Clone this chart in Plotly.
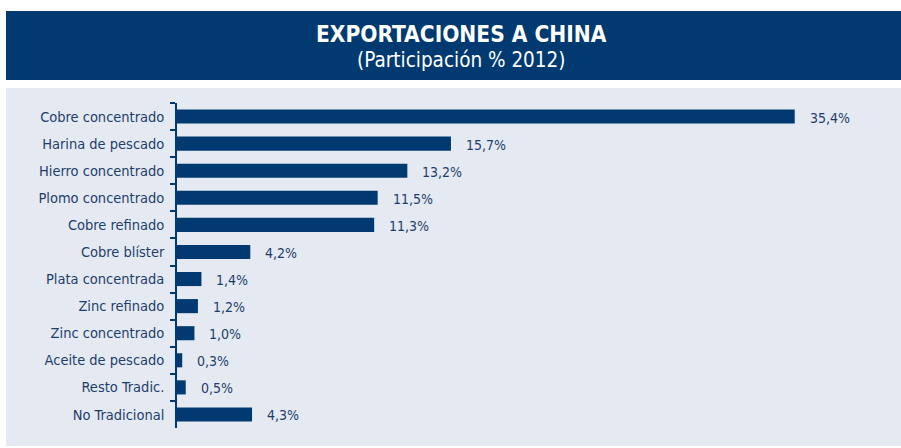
import plotly.graph_objects as go

# Export shares to China, 2012 (%)
categories = [
    "Cobre concentrado", "Harina de pescado", "Hierro concentrado",
    "Plomo concentrado", "Cobre refinado", "Cobre blíster",
    "Plata concentrada", "Zinc refinado", "Zinc concentrado",
    "Aceite de pescado", "Resto Tradic.", "No Tradicional",
]
shares = [35.4, 15.7, 13.2, 11.5, 11.3, 4.2, 1.4, 1.2, 1.0, 0.3, 0.5, 4.3]

title_text = "EXPORTACIONES A CHINA"
subtitle_text = "(Participación % 2012)"

W, H = 901, 448
NAVY = "#003a70"
TEXT = "#1d3d6b"
PANEL = "#e5eaf2"
FONT = "DejaVu Sans Condensed, Liberation Sans Narrow, sans-serif"

labels = [f"{v:.1f}".replace(".", ",") + "%" for v in shares]

fig = go.Figure(
    go.Bar(
        x=shares,
        y=categories,
        orientation="h",
        marker=dict(color=NAVY, line=dict(width=0)),
        width=0.52,
        hoverinfo="skip",
    )
)

# Value labels to the right of each bar
for cat, v, lab in zip(categories, shares, labels):
    fig.add_annotation(
        x=v, y=cat, xref="x", yref="y",
        text=lab, showarrow=False,
        xanchor="left", yanchor="middle", xshift=13, yshift=-1,
        font=dict(family=FONT, size=14, color=TEXT),
    )

# Header band and grey panel behind the plot
fig.add_shape(type="rect", xref="paper", yref="paper",
              x0=6 / W, x1=1, y0=1 - 80 / H, y1=1 - 11 / H,
              fillcolor=NAVY, line=dict(width=0), layer="below")
fig.add_shape(type="rect", xref="paper", yref="paper",
              x0=6 / W, x1=1, y0=1 - 446 / H, y1=1 - 88 / H,
              fillcolor=PANEL, line=dict(width=0), layer="below")

fig.add_annotation(x=461 / W, y=1 - 34 / H, xref="paper", yref="paper",
                   text=f"<b>{title_text}</b>", showarrow=False,
                   xanchor="center", yanchor="middle",
                   font=dict(family=FONT, size=22.5, color="white"))
fig.add_annotation(x=461 / W, y=1 - 60 / H, xref="paper", yref="paper",
                   text=subtitle_text, showarrow=False,
                   xanchor="center", yanchor="middle",
                   font=dict(family=FONT, size=20.5, color="white"))

fig.update_layout(
    width=W, height=H,
    margin=dict(l=0, r=0, t=0, b=0),
    paper_bgcolor="white",
    plot_bgcolor="rgba(0,0,0,0)",
    showlegend=False,
    bargap=0.48,
    xaxis=dict(
        domain=[177 / W, (177 + 40 * 17.45) / W],
        range=[0, 40],
        visible=False,
        fixedrange=True,
    ),
    yaxis=dict(
        domain=[1 - 428 / H, 1 - 103 / H],
        autorange="reversed",
        showline=True, linecolor=NAVY, linewidth=1.5,
        ticks="outside", tickson="boundaries", ticklen=5,
        tickcolor=NAVY, tickwidth=1.5,
        ticklabelstandoff=8,
        showgrid=False, zeroline=False,
        tickfont=dict(family=FONT, size=14.5, color=TEXT),
        fixedrange=True,
    ),
)

fig.write_html("out.html")
